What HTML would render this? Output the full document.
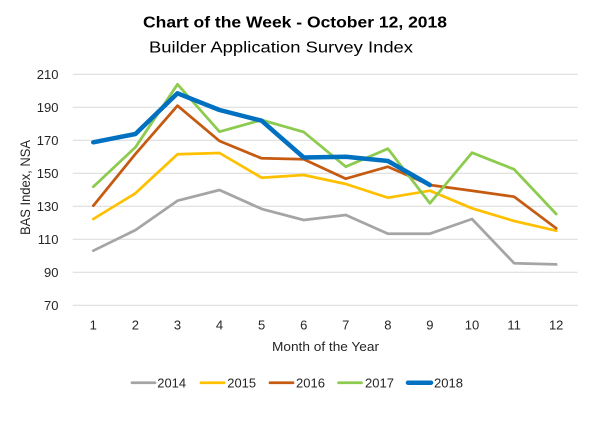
<!DOCTYPE html>
<html><head><meta charset="utf-8"><style>
html,body{margin:0;padding:0;background:#fff;}
svg{display:block;}
text{font-family:"Liberation Sans",sans-serif;}
</style></head><body>
<svg width="600" height="423" viewBox="0 0 600 423" xmlns="http://www.w3.org/2000/svg">
<rect width="600" height="423" fill="#fff"/>
<text x="295" y="27.5" font-size="16" font-weight="bold" text-anchor="middle" fill="#000" textLength="304" lengthAdjust="spacingAndGlyphs">Chart of the Week - October 12, 2018</text>
<text x="281" y="52.5" font-size="16" text-anchor="middle" fill="#000" textLength="264" lengthAdjust="spacingAndGlyphs">Builder Application Survey Index</text>
<g stroke="#D9D9D9" stroke-width="1">
<line x1="72.7" x2="577.7" y1="74.3" y2="74.3"/>
<line x1="72.7" x2="577.7" y1="107.3" y2="107.3"/>
<line x1="72.7" x2="577.7" y1="140.3" y2="140.3"/>
<line x1="72.7" x2="577.7" y1="173.3" y2="173.3"/>
<line x1="72.7" x2="577.7" y1="206.3" y2="206.3"/>
<line x1="72.7" x2="577.7" y1="239.3" y2="239.3"/>
<line x1="72.7" x2="577.7" y1="272.3" y2="272.3"/>
<line x1="72.7" x2="577.7" y1="305.3" y2="305.3"/>
</g>
<g font-size="13" fill="#262626" text-anchor="end">
<text x="58.5" y="79">210</text>
<text x="58.5" y="112">190</text>
<text x="58.5" y="145">170</text>
<text x="58.5" y="178">150</text>
<text x="58.5" y="211">130</text>
<text x="58.5" y="244">110</text>
<text x="58.5" y="277">90</text>
<text x="58.5" y="310">70</text>
</g>
<g font-size="13" fill="#262626" text-anchor="middle">
<text x="93.3" y="329.5">1</text>
<text x="135.4" y="329.5">2</text>
<text x="177.5" y="329.5">3</text>
<text x="219.5" y="329.5">4</text>
<text x="261.6" y="329.5">5</text>
<text x="303.7" y="329.5">6</text>
<text x="345.8" y="329.5">7</text>
<text x="387.9" y="329.5">8</text>
<text x="429.9" y="329.5">9</text>
<text x="472.0" y="329.5">10</text>
<text x="514.1" y="329.5">11</text>
<text x="556.2" y="329.5">12</text>
</g>
<text x="325.5" y="351" font-size="13" fill="#262626" text-anchor="middle" textLength="107" lengthAdjust="spacingAndGlyphs">Month of the Year</text>
<text transform="translate(30,187.5) rotate(-90)" x="0" y="0" font-size="13.5" fill="#262626" text-anchor="middle" textLength="95" lengthAdjust="spacingAndGlyphs">BAS Index, NSA</text>
<g fill="none" stroke-linejoin="round" stroke-linecap="round">
<polyline stroke="#A5A5A5" stroke-width="2.75" points="93.3,250.7 135.4,230.1 177.5,200.7 219.5,190 261.6,208.9 303.7,220 345.8,215 387.9,233.7 429.9,233.7 472,219 514.1,263.2 556.2,264.4"/>
<polyline stroke="#FFC000" stroke-width="2.75" points="93.3,219 135.4,193.3 177.5,154.3 219.5,153 261.6,177.7 303.7,175 345.8,184 387.9,197.7 429.9,190.7 472,208.3 514.1,221 556.2,230.7"/>
<polyline stroke="#C55A11" stroke-width="2.75" points="93.3,205.7 135.4,154 177.5,105.7 219.5,141 261.6,158.3 303.7,159.3 345.8,178.7 387.9,166.7 429.9,185 472,190.7 514.1,196.7 556.2,228.3"/>
<polyline stroke="#8CCB4E" stroke-width="2.75" points="93.3,186.7 135.4,147.3 177.5,84.3 219.5,131.7 261.6,120 303.7,132 345.8,166.7 387.9,148.7 429.9,203.3 472,152.7 514.1,169.3 556.2,214"/>
<polyline stroke="#0070C0" stroke-width="4.5" points="93.3,142.3 135.4,134 177.5,93.3 219.5,110 261.6,120.7 303.7,157.5 345.8,156.7 387.9,161 429.9,185"/>
</g>
<g stroke-linecap="round">
<line x1="132" x2="155" y1="382.7" y2="382.7" stroke="#A5A5A5" stroke-width="2.75"/>
<line x1="201" x2="224" y1="382.7" y2="382.7" stroke="#FFC000" stroke-width="2.75"/>
<line x1="270" x2="293" y1="382.7" y2="382.7" stroke="#C55A11" stroke-width="2.75"/>
<line x1="338.5" x2="361.5" y1="382.7" y2="382.7" stroke="#8CCB4E" stroke-width="2.75"/>
<line x1="408" x2="431" y1="382.7" y2="382.7" stroke="#0070C0" stroke-width="4.5"/>
</g>
<g font-size="13" fill="#262626">
<text x="157.3" y="387.5" textLength="28.7" lengthAdjust="spacingAndGlyphs">2014</text>
<text x="227.3" y="387.5" textLength="28.7" lengthAdjust="spacingAndGlyphs">2015</text>
<text x="296" y="387.5" textLength="29" lengthAdjust="spacingAndGlyphs">2016</text>
<text x="365" y="387.5" textLength="29" lengthAdjust="spacingAndGlyphs">2017</text>
<text x="434" y="387.5" textLength="29" lengthAdjust="spacingAndGlyphs">2018</text>
</g>
</svg>
</body></html>
